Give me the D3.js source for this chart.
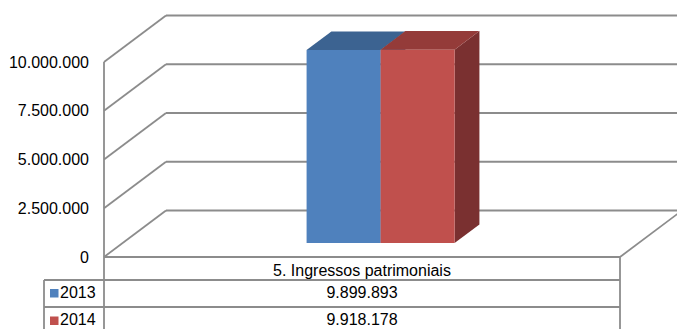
<!DOCTYPE html>
<html>
<head>
<meta charset="utf-8">
<script src="https://cdn.jsdelivr.net/npm/d3@7/dist/d3.min.js"></script>
<style>
  html, body { margin: 0; padding: 0; background: #fff; }
  svg { display: block; font-family: "Liberation Sans", Arial, sans-serif; }
</style>
</head>
<body>
<svg id="chart" width="677" height="329"></svg>
<script>
// Data
const categories = ["5. Ingressos patrimoniais"];
const seriesNames = ["2013", "2014"];
const values2013 = [9899893];
const values2014 = [9918178];
const yTicks = [0, 2500000, 5000000, 7500000, 10000000];
const seriesColors = {
  "2013": { front: "#4F81BD", top: "#3C6391", side: "#385D8A" },
  "2014": { front: "#C0504D", top: "#943B39", side: "#7A3030" }
};

const fmt = v => d3.format(",")(v).replace(/,/g, ".");

const svg = d3.select("#chart");
const W = 677, H = 329;

// Front plane of the 3D box and depth offset
const left = 104, right = 620;
const floorY = 257, topY = 62;
const DX = 62, DY = -46.5;          // full depth offset
const zFront = 0.3, zBack = 0.7;    // bar depth range inside the box

const y = d3.scaleLinear().domain([0, 10000000]).range([floorY, topY]);
const x = d3.scaleBand().domain(categories).range([left, right])
  .paddingInner(0).paddingOuter(1.243);
const xs = d3.scaleBand().domain(seriesNames).range([0, x.bandwidth()]).padding(0);

// project (plot x, screen y at front, depth z) to screen
const P = (px, py, z) => [px + z * DX, py + z * DY];

const gridColor = "#8c8c8c";
const g = svg.append("g");

// Back wall gridlines
yTicks.forEach(t => {
  const [x1, y1] = P(left, y(t), 1);
  const [x2, y2] = P(right, y(t), 1);
  g.append("line").attr("x1", x1).attr("y1", y1).attr("x2", x2).attr("y2", y2)
    .attr("stroke", gridColor).attr("stroke-width", 1.8);
});

// Left wall: diagonals per tick
yTicks.forEach(t => {
  const [x1, y1] = P(left, y(t), 0);
  const [x2, y2] = P(left, y(t), 1);
  g.append("line").attr("x1", x1).attr("y1", y1).attr("x2", x2).attr("y2", y2)
    .attr("stroke", gridColor).attr("stroke-width", 1.8);
});

// Floor right diagonal
{
  const [x1, y1] = P(right, y(0), 0);
  const [x2, y2] = P(right, y(0), 1);
  g.append("line").attr("x1", x1).attr("y1", y1).attr("x2", x2).attr("y2", y2)
    .attr("stroke", gridColor).attr("stroke-width", 1.8);
}

// Bars
const barData = categories.flatMap((c, i) => [
  { cat: c, s: "2013", v: values2013[i] },
  { cat: c, s: "2014", v: values2014[i] }
]);

const poly = pts => "M" + pts.map(p => p.join(",")).join("L") + "Z";

const bars = g.append("g");
barData.forEach(d => {
  const x0 = x(d.cat) + xs(d.s), x1 = x0 + xs.bandwidth();
  const yTop = y(d.v), yBot = y(0);
  const col = seriesColors[d.s];
  // side
  bars.append("path").attr("fill", col.side)
    .attr("d", poly([P(x1, yTop, zFront), P(x1, yTop, zBack), P(x1, yBot, zBack), P(x1, yBot, zFront)]));
  // top
  bars.append("path").attr("fill", col.top)
    .attr("d", poly([P(x0, yTop, zFront), P(x0, yTop, zBack), P(x1, yTop, zBack), P(x1, yTop, zFront)]));
  // front
  bars.append("path").attr("fill", col.front)
    .attr("d", poly([P(x0, yTop, zFront), P(x1, yTop, zFront), P(x1, yBot, zFront), P(x0, yBot, zFront)]));
});

// Front left axis line (continues through the table)
g.append("line").attr("x1", left).attr("y1", topY).attr("x2", left).attr("y2", H + 2)
  .attr("stroke", gridColor).attr("stroke-width", 1.8);

// Y tick labels
yTicks.forEach(t => {
  g.append("text").attr("x", left - 15).attr("y", y(t) + 5.7)
    .attr("text-anchor", "end").attr("font-size", 16).attr("fill", "#000")
    .text(fmt(t));
});

// Data table
const tableLeft = 44;
const rowTops = [257, 280, 307, 334];
const t = g.append("g");
// header row top = floor front line
t.append("line").attr("x1", left).attr("y1", rowTops[0]).attr("x2", right).attr("y2", rowTops[0])
  .attr("stroke", gridColor).attr("stroke-width", 1.8);
[rowTops[1], rowTops[2]].forEach(ry => {
  t.append("line").attr("x1", tableLeft).attr("y1", ry).attr("x2", right).attr("y2", ry)
    .attr("stroke", gridColor).attr("stroke-width", 1.8);
});
t.append("line").attr("x1", tableLeft).attr("y1", rowTops[1]).attr("x2", tableLeft).attr("y2", H + 2)
  .attr("stroke", gridColor).attr("stroke-width", 1.8);
t.append("line").attr("x1", right).attr("y1", rowTops[0]).attr("x2", right).attr("y2", H + 2)
  .attr("stroke", gridColor).attr("stroke-width", 1.8);

categories.forEach(c => {
  t.append("text").attr("x", x(c) + x.bandwidth() / 2).attr("y", 276)
    .attr("text-anchor", "middle").attr("font-size", 16).attr("fill", "#000").text(c);
});

const seriesValues = { "2013": values2013, "2014": values2014 };
seriesNames.forEach((s, i) => {
  const base = [297.5, 325][i];
  t.append("rect").attr("x", 50).attr("y", base - 8.5).attr("width", 8.5).attr("height", 8.5)
    .attr("fill", seriesColors[s].front);
  t.append("text").attr("x", 60).attr("y", base).attr("font-size", 16).attr("fill", "#000").text(s);
  categories.forEach((c, j) => {
    t.append("text").attr("x", x(c) + x.bandwidth() / 2).attr("y", base)
      .attr("text-anchor", "middle").attr("font-size", 16).attr("fill", "#000")
      .text(fmt(seriesValues[s][j]));
  });
});
</script>
</body>
</html>
